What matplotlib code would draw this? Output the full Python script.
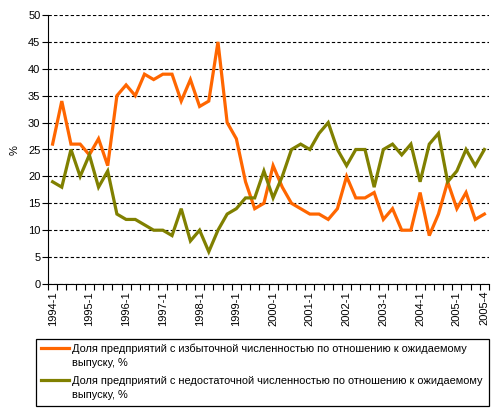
import matplotlib
matplotlib.use("Agg")
import matplotlib.pyplot as plt
from matplotlib.lines import Line2D
from matplotlib.patches import Rectangle
import numpy as np

plt.rcParams["font.family"] = ["Liberation Sans", "DejaVu Sans"]

# ===== данные (квартальные, 1994-1 ... 2005-4) =====
years = list(range(1994, 2006))
quarters = [f"{y}-{q}" for y in years for q in range(1, 5)]

excess = [26, 34, 26, 26, 24, 27, 22, 35, 37, 35, 39, 38,
          39, 39, 34, 38, 33, 34, 45, 30, 27, 19, 14, 15,
          22, 18, 15, 14, 13, 13, 12, 14, 20, 16, 16, 17,
          12, 14, 10, 10, 17, 9, 13, 19, 14, 17, 12, 13]
shortage = [19, 18, 25, 20, 24, 18, 21, 13, 12, 12, 11, 10,
            10, 9, 14, 8, 10, 6, 10, 13, 14, 16, 16, 21,
            16, 20, 25, 26, 25, 28, 30, 25, 22, 25, 25, 18,
            25, 26, 24, 26, 19, 26, 28, 19, 21, 25, 22, 25]

labels = [
    ["Доля предприятий с избыточной численностью по отношению к ожидаемому", "выпуску, %"],
    ["Доля предприятий с недостаточной численностью по отношению к ожидаемому", "выпуску, %"],
]
colors = ["#FF6600", "#808000"]
# ==================================================

W, H = 494, 415
fig = plt.figure(figsize=(W / 100, H / 100), dpi=100)
ax = fig.add_axes([48 / W, 1 - 284 / H, 441 / W, 269 / H])

x = np.arange(len(quarters))
for vals, c in zip([excess, shortage], colors):
    ax.plot(x, vals, color=c, lw=2.3, solid_joinstyle="miter")

ax.set_xlim(-0.5, len(quarters) - 0.5)
ax.set_ylim(0, 50)
ax.set_yticks(range(0, 51, 5))
ax.yaxis.grid(True, linestyle=(0, (3, 2)), color="black", lw=0.8)
ax.set_axisbelow(True)

show = [i for i in range(len(quarters)) if i % 4 == 0] + [len(quarters) - 1]
ax.set_xticks(show)
ax.set_xticklabels([quarters[i] for i in show], rotation=90, fontsize=8)
ax.set_xticks(np.arange(-0.5, len(quarters)), minor=True)
ax.tick_params(axis="x", which="major", length=0, pad=5)
ax.tick_params(axis="x", which="minor", length=4, direction="out", width=0.8)
ax.tick_params(axis="y", labelsize=8, length=4, width=0.8, pad=1.5)

for s in ["top", "right"]:
    ax.spines[s].set_visible(False)
ax.spines["left"].set_linewidth(0.8)
ax.spines["bottom"].set_linewidth(0.8)

fig.text(15 / W, 1 - 150 / H, "%", rotation=90, fontsize=8, ha="center", va="center")

# легенда вручную (линия на уровне первой строки, как в Excel)
fig.add_artist(Rectangle((36 / W, 1 - 406 / H), 453 / W, 67 / H, transform=fig.transFigure,
                         fill=False, edgecolor="black", lw=0.9))
baselines = [(352, 366), (384, 398)]
handle_y = [347.5, 379.5]
for lab, c, bl, hy in zip(labels, colors, baselines, handle_y):
    fig.add_artist(Line2D([41 / W, 69 / W], [1 - hy / H] * 2, transform=fig.transFigure,
                          color=c, lw=2.3))
    for line, b in zip(lab, bl):
        fig.text(71.5 / W, 1 - b / H, line, fontsize=7.9, ha="left", va="baseline")

fig.savefig("out.png", dpi=100)
